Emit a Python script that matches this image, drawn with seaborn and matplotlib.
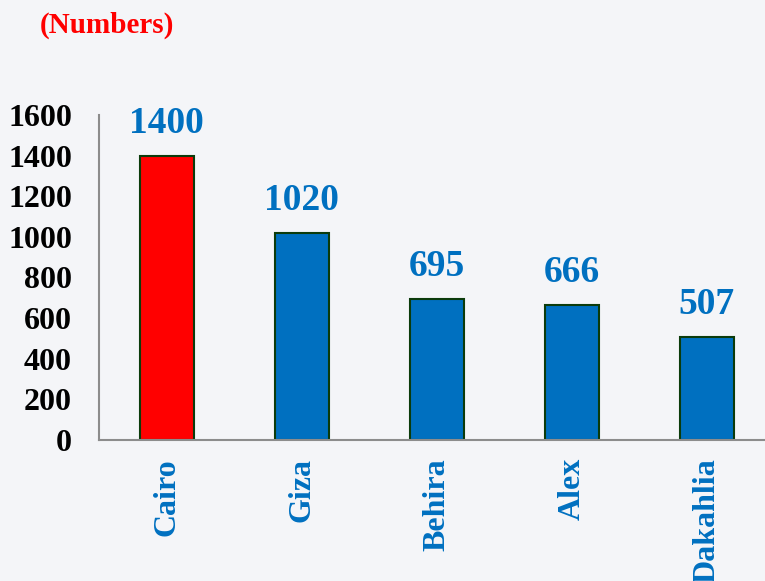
import matplotlib
matplotlib.use("Agg")
import matplotlib.pyplot as plt
import seaborn as sns
import pandas as pd

categories = ["Cairo", "Giza", "Behira", "Alex", "Dakahlia"]
values = [1400, 1020, 695, 666, 507]
bar_colors = ["#FF0000", "#0070C0", "#0070C0", "#0070C0", "#0070C0"]
yticks = [0, 200, 400, 600, 800, 1000, 1200, 1400, 1600]

sns.set_style("white")
plt.rcParams["font.family"] = ["Liberation Serif", "DejaVu Serif"]

bg = "#F4F5F8"
blue = "#0070C0"
df = pd.DataFrame({"cat": categories, "val": values})

fig = plt.figure(figsize=(7.65, 5.81), dpi=100, facecolor=bg)
ax = fig.add_axes([99/765, 1-440/581, 1-99/765, (440-115)/581])
ax.set_facecolor(bg)

sns.barplot(data=df, x="cat", y="val", hue="cat", palette=bar_colors,
            saturation=1, width=0.4, edgecolor="#0B3B0B", linewidth=1.5,
            legend=False, ax=ax)

ax.set_ylim(0, 1600)
ax.set_xlim(-0.5, 4.43)
ax.set_yticks(yticks)
ax.set_yticklabels([str(t) for t in yticks], fontsize=23, fontweight="bold", color="black")
ax.set_xticks(range(len(categories)))
ax.set_xticklabels(categories, rotation=90, fontsize=23, fontweight="bold", color=blue)
ax.set_xlabel("")
ax.set_ylabel("")

for s in ["top", "right"]:
    ax.spines[s].set_visible(False)
for s in ["left", "bottom"]:
    ax.spines[s].set_color("#8C8C8C")
    ax.spines[s].set_linewidth(1.5)
ax.tick_params(axis="y", direction="out", length=6.5, width=1.5, color="#8C8C8C", pad=13)
ax.tick_params(axis="x", length=0, pad=13)

for i, v in enumerate(values):
    ax.text(i, v + 160, str(v), ha="center", va="center", fontsize=27,
            fontweight="bold", color=blue)

fig.text(40/765, 1-25/581, "(Numbers)", ha="left", va="center", fontsize=21,
         fontweight="bold", color="#FF0000")

fig.savefig("out.png", dpi=100, facecolor=bg)
